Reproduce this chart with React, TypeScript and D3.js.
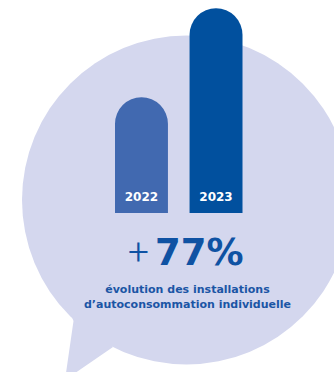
import React from "react";
import * as d3 from "d3";

const years = ["2022", "2023"];
const values = [100, 177]; // index, 2022 = 100
const headline = "77%";
const headlineSign = "+";
const subtitleLines = ["évolution des installations", "d’autoconsommation individuelle"];
const barColors = ["#4169b0", "#01509e"];

const W = 334;
const H = 372;

export default function App() {
  const x = d3.scaleBand<string>().domain(years).range([115, 242.5]).paddingInner(0.29).paddingOuter(0);
  const y = d3.scaleLinear().domain([0, 177]).range([213, 8.3]);
  const bw = x.bandwidth();
  const r = bw / 2;

  const barPath = (yr: string, v: number) => {
    const x0 = x(yr)!;
    const top = y(v);
    const p = d3.path();
    p.moveTo(x0, y(0));
    p.lineTo(x0, top + r);
    p.arc(x0 + r, top + r, r, Math.PI, 0);
    p.lineTo(x0 + bw, y(0));
    p.closePath();
    return p.toString();
  };

  const cx = 186.5, cy = 200, cr = 164.5;
  const tail = "M57,300 Q71,311 73.5,321 L65,380 L113,347 Z";

  return (
    <svg width={W} height={H} style={{ position: "fixed", left: 0, top: 0 }}>
      <rect width={W} height={H} fill="#ffffff" />
      <g fill="#d4d7ee">
        <circle cx={cx} cy={cy} r={cr} />
        <path d={tail} />
      </g>
      {years.map((yr, i) => (
        <g key={yr}>
          <path d={barPath(yr, values[i])} fill={barColors[i]} />
          <text
            x={x(yr)! + bw / 2}
            y={201}
            textAnchor="middle"
            fill="#ffffff"
            fontFamily="'DejaVu Sans', sans-serif"
            fontWeight={700}
            fontSize={12}
          >
            {yr}
          </text>
        </g>
      ))}
      <text x={138.5} y={263.5} textAnchor="middle" fill="#0f52a3" fontFamily="Roboto, sans-serif" fontWeight={300} fontSize={37}>
        {headlineSign}
      </text>
      <text x={155} y={264.5} fill="#0f52a3" fontFamily="'DejaVu Sans', sans-serif" fontWeight={700} fontSize={37}>
        {headline}
      </text>
      {subtitleLines.map((t, i) => (
        <text
          key={i}
          x={187.5}
          y={293 + i * 14.5}
          textAnchor="middle"
          fill="#1b55a5"
          fontFamily="'DejaVu Sans', sans-serif"
          fontWeight={700}
          fontSize={11}
        >
          {t}
        </text>
      ))}
    </svg>
  );
}
